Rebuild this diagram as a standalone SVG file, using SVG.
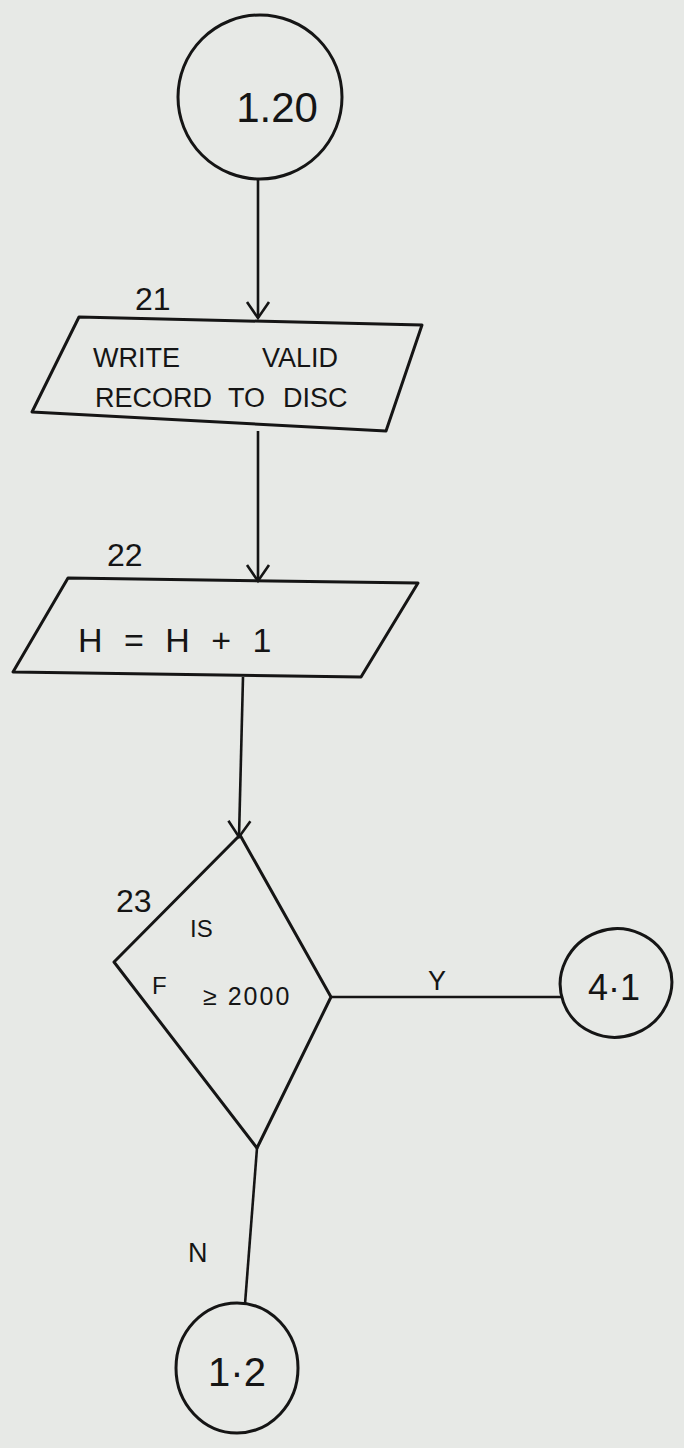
<svg xmlns="http://www.w3.org/2000/svg" width="684" height="1448" viewBox="0 0 684 1448">
<style>
.bg{fill:#e7e9e6}
.shape{fill:none;stroke:#151515;stroke-width:3;stroke-linejoin:round}
.conn{fill:none;stroke:#151515;stroke-width:2.6}
.t{font-family:"Liberation Sans","DejaVu Sans",sans-serif;fill:#151515}
.lbl{font-size:27px}
.num{font-size:32px}
.big{font-size:42px}
</style>
<defs>
<marker id="arr" markerWidth="26" markerHeight="26" refX="22" refY="13" orient="auto" markerUnits="userSpaceOnUse" viewBox="0 0 26 26">
<path d="M6,2 L22,13 L6,24" fill="none" stroke="#151515" stroke-width="2.6"/>
</marker>
</defs>
<rect class="bg" x="0" y="0" width="684" height="1448"/>

<g id="connectors">
<line class="conn" x1="258" y1="179" x2="258" y2="318" marker-end="url(#arr)"/>
<line class="conn" x1="258" y1="431" x2="258" y2="581" marker-end="url(#arr)"/>
<line class="conn" x1="243" y1="677" x2="239" y2="837" marker-end="url(#arr)"/>
<line class="conn" x1="332" y1="997" x2="561" y2="997"/>
<text class="t lbl" x="428" y="990">Y</text>
<line class="conn" x1="257" y1="1148" x2="245" y2="1304"/>
<text class="t lbl" x="188" y="1262">N</text>
</g>

<g id="node-start">
<ellipse class="shape" cx="260" cy="97" rx="82" ry="82"/>
<text class="t big" x="277" y="122" text-anchor="middle">1.20</text>
</g>

<g id="node-21">
<polygon class="shape" points="79,317 422,325 386,431 32,412"/>
<text class="t num" x="135" y="310">21</text>
<text class="t lbl" y="367"><tspan x="93">WRITE</tspan><tspan x="262">VALID</tspan></text>
<text class="t lbl" y="407"><tspan x="95">RECORD</tspan><tspan x="228">TO</tspan><tspan x="283">DISC</tspan></text>
</g>

<g id="node-22">
<polygon class="shape" points="68,578 418,583 361,677 13,672"/>
<text class="t num" x="107" y="566">22</text>
<text class="t" style="font-size:34px;word-spacing:12px" x="78" y="652">H = H + 1</text>
</g>

<g id="node-23">
<polygon class="shape" points="240,835 331,997 257,1148 114,962"/>
<text class="t num" x="116" y="912">23</text>
<text class="t" style="font-size:24px" x="190" y="937">IS</text>
<text class="t" style="font-size:24px" x="152" y="994">F</text>
<text class="t" style="font-size:25px;letter-spacing:2px" x="203" y="1005">≥ 2000</text>
</g>

<g id="node-4-1">
<ellipse class="shape" cx="616" cy="983" rx="56" ry="54" transform="rotate(-20 616 983)"/>
<text class="t" x="614" y="1000" text-anchor="middle" style="font-size:36px">4·1</text>
</g>

<g id="node-1-2">
<ellipse class="shape" cx="237" cy="1368" rx="61" ry="65"/>
<text class="t" x="237" y="1386" text-anchor="middle" style="font-size:40px">1·2</text>
</g>
</svg>
